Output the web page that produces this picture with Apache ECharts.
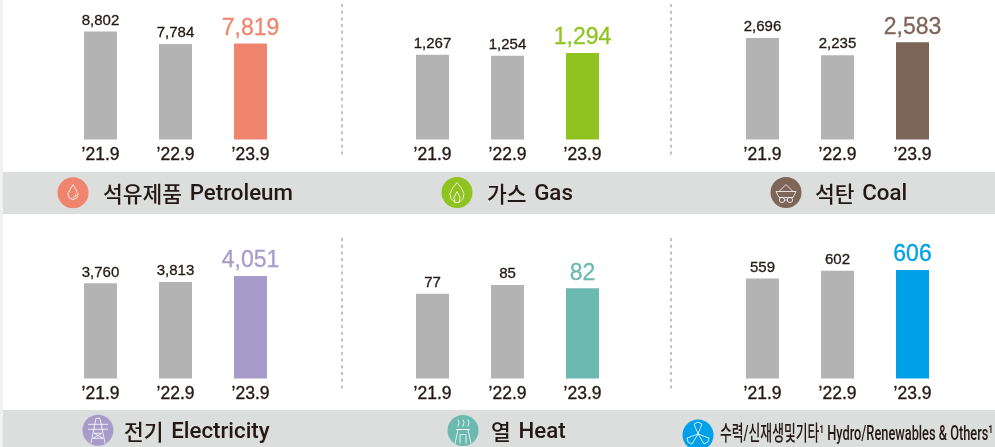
<!DOCTYPE html>
<html><head><meta charset="utf-8">
<style>html,body{margin:0;padding:0;background:#fff}#c{width:995px;height:447px}</style>
<script src="https://cdn.jsdelivr.net/npm/echarts@6/dist/echarts.min.js"></script>
</head><body><div id="c"></div>
<script>
var categories = ["’21.9", "’22.9", "’23.9"];
var petroleum = [8802, 7784, 7819];
var gas = [1267, 1254, 1294];
var coal = [2696, 2235, 2583];
var electricity = [3760, 3813, 4051];
var heat = [77, 85, 82];
var hydro = [559, 602, 606];

var GREY = '#b3b3b3', INK = '#231815', BAND = '#dcdddd';
var KR = '"Noto Sans CJK KR","Noto Sans",sans-serif';
var NUM = '"Liberation Sans",Arial,sans-serif';
var panels = [
  {v: petroleum, c: '#f0856e', left: 63,  bottom: 139.5, h: 108,   title: ['석유제품','Petroleum'], tx: 103, ty: 194, cx: 73,  cy: 192.7},
  {v: gas,       c: '#8fc31f', left: 395, bottom: 139.5, h: 86.5,  title: ['가스','Gas'],           tx: 487, ty: 194, cx: 457, cy: 192.5},
  {v: coal,      c: '#7d6558', left: 725, bottom: 139.5, h: 101.5, title: ['석탄','Coal'],          tx: 815, ty: 194, cx: 786, cy: 192.5},
  {v: electricity,c:'#a79cc9', left: 63,  bottom: 378.5, h: 102.5, title: ['전기','Electricity'],   tx: 124, ty: 432, cx: 98,  cy: 430.3},
  {v: heat,      c: '#6cb9b0', left: 395, bottom: 378.5, h: 93.5,  title: ['열','Heat'],            tx: 491, ty: 432, cx: 463, cy: 430.5},
  {v: hydro,     c: '#00a0e9', left: 725, bottom: 378.5, h: 108.5, title: null, tx: 0, ty: 0, cx: 698, cy: 435}
];
function fmt(n){return String(n).replace(/\B(?=(\d{3})+$)/g, ',');}
var grids=[],xs=[],ys=[],series=[];
panels.forEach(function(p,i){
  var max=Math.max.apply(null,p.v);
  grids.push({left:p.left,width:225,top:p.bottom-p.h,height:p.h});
  xs.push({type:'category',gridIndex:i,data:categories,axisLine:{show:false},axisTick:{show:false},
    axisLabel:{color:INK,fontFamily:NUM,fontSize:17.5,margin:7,interval:0,textBorderColor:INK,textBorderWidth:0.35}});
  ys.push({type:'value',gridIndex:i,min:0,max:max,show:false,splitLine:{show:false}});
  series.push({type:'bar',xAxisIndex:i,yAxisIndex:i,barWidth:33,silent:true,
    data:p.v.map(function(val,j){
      var hi=j===2;
      return {value:val,itemStyle:{color:hi?p.c:GREY},
        label:{show:true,position:'top',distance:3.5,formatter:fmt(val),fontFamily:NUM,
          fontSize:hi?23:15,color:hi?p.c:INK,textBorderColor:hi?p.c:INK,textBorderWidth:0.3}};
    })});
});
var g=[];
g.push({type:'rect',silent:true,z:0,shape:{x:0,y:0,width:3,height:447},style:{fill:'#f1f1f1'}});
g.push({type:'rect',silent:true,z:0,shape:{x:3,y:172,width:992,height:42},style:{fill:BAND}});
g.push({type:'rect',silent:true,z:0,shape:{x:3,y:410,width:992,height:37},style:{fill:BAND}});
[[342,4,155],[671,4,155],[342,238,390],[671,238,390]].forEach(function(d){
  g.push({type:'line',silent:true,shape:{x1:d[0],y1:d[1],x2:d[0],y2:d[2]},
    style:{stroke:'#9a9a9a',lineWidth:1.2,lineDash:[3,3.7]}});
});
// decorative icon strokes, offsets from each circle's centre
var icons=[
  [[[0,-8],[-3,-3],[-5,1],[-4,5],[0,7],[4,5],[5,1],[3,-3],[0,-8]],[[0,5],[2.5,3.5],[3,1]]],
  [[[0,-10],[-4,-5],[-7,1],[-6,6],[-2,10],[2,10],[6,6],[7,1],[4,-5],[0,-10]],[[-2,10],[-3,5],[0,-1],[3,5],[2,10]]],
  [[[-10,-1],[10,-1],[7,5],[-7,5],[-10,-1]],[[-7,-1],[0,-8],[7,-1]],[[-1.5,7.5],[1.5,7.5]]],
  [[[-7,13],[-2,-12],[2,-12],[7,13]],[[-10,-6],[10,-6]],[[-10,-1],[10,-1]],[[-4,3],[4,3]],[[-5,8],[5,8]],[[-4,3],[5,8]],[[4,3],[-5,8]]],
  [[[-8,13],[-5,-1],[5,-1],[8,13]],[[-7,-1],[7,-1]],[[-3,13],[-3,4],[3,4],[3,13]],[[-5,-11],[-4,-8],[-5,-4]],[[0,-11],[1,-8],[0,-4]],[[5,-11],[6,-8],[5,-4]]],
  [[[0,-1],[-4,-11],[0,-13],[4,-11],[0,-1]],[[0,-1],[11,3],[10,7],[6,9],[0,-1]],[[0,-1],[-11,3],[-10,7],[-6,9],[0,-1]]]
];
var WHEELS=[[-4,7.5],[4,7.5]];
var titleRich={k:{fontFamily:KR,fontWeight:500,fontSize:21.5,color:INK},
               s:{fontFamily:KR,fontSize:17,color:INK},
               l:{fontFamily:'Roboto,sans-serif',fontWeight:500,fontSize:22.3,color:INK}};
panels.forEach(function(p,i){
  g.push({type:'circle',silent:true,shape:{cx:p.cx,cy:p.cy,r:15.5},style:{fill:p.c}});
  icons[i].forEach(function(pts){
    g.push({type:'polyline',silent:true,shape:{points:pts.map(function(q){return [p.cx+q[0],p.cy+q[1]];})},
      style:{fill:null,stroke:'#fff',lineWidth:0.8}});
  });
  if(i===2) WHEELS.forEach(function(w){
    g.push({type:'circle',silent:true,shape:{cx:p.cx+w[0],cy:p.cy+w[1],r:2.6},style:{fill:null,stroke:'#fff',lineWidth:0.8}});
  });
  if(p.title) g.push({type:'text',silent:true,x:p.tx,y:p.ty,
    style:{text:'{k|'+p.title[0]+'}{s|  }{l|'+p.title[1]+'}',rich:titleRich,fill:INK,textAlign:'left',textVerticalAlign:'middle'}});
});
g.push({type:'text',silent:true,x:720,y:435,scaleX:0.61,
  style:{text:'수력/신재생및기타¹ Hydro/Renewables & Others¹',fill:INK,font:'500 21px Roboto,'+KR,textAlign:'left',textVerticalAlign:'middle'}});
var chart=echarts.init(document.getElementById('c'),null,{renderer:'canvas'});
chart.setOption({animation:false,backgroundColor:'#fff',grid:grids,xAxis:xs,yAxis:ys,series:series,graphic:{elements:g}});
</script></body></html>
